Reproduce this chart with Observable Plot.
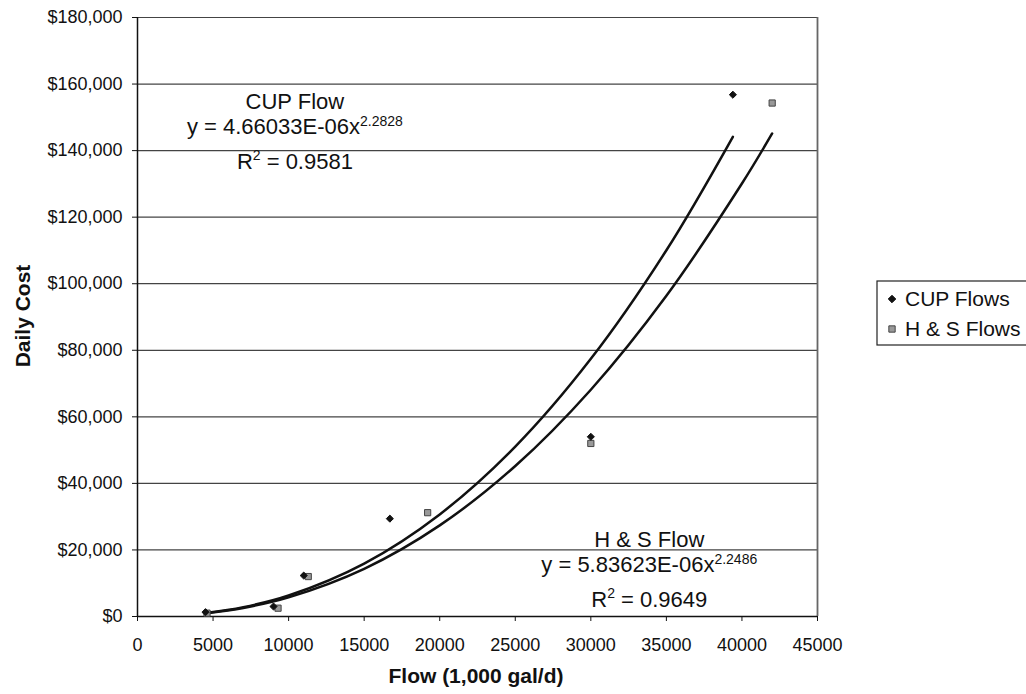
<!DOCTYPE html>
<html><head><meta charset="utf-8">
<script src="https://cdn.jsdelivr.net/npm/d3@7"></script>
<script src="https://cdn.jsdelivr.net/npm/@observablehq/plot@0.6"></script>
<style>
body{margin:0;background:#fff;}
svg{font-family:"Liberation Sans",Arial,sans-serif;}
</style>
</head><body><div id="chart"></div>
<script>
// Observed data points (Flow in 1,000 gal/d, Daily Cost in $)
const cupFlow = [4500, 9000, 11000, 16700, 30000, 39400];
const cupCost = [1300, 3000, 12300, 29400, 54000, 156800];
const hsFlow  = [4600, 9300, 11300, 19200, 30000, 42000];
const hsCost  = [1000, 2500, 12000, 31200, 52000, 154300];
// Power trendline points
const cupFitFlow = [4500, 7000, 10000, 15000, 20000, 25000, 30000, 35000, 39400];
const cupFitCost = [1018, 2792, 6303, 15909, 30677, 51050, 77424, 110053, 144150];
const hsFitFlow  = [4600, 7000, 10000, 15000, 20000, 25000, 30000, 35000, 40000, 42000];
const hsFitCost  = [1005, 2584, 5757, 14327, 27381, 45219, 68144, 96369, 130106, 145150];
// Ticks and labels
const xTicks = [0, 5000, 10000, 15000, 20000, 25000, 30000, 35000, 40000, 45000];
const yTicks = [0, 20000, 40000, 60000, 80000, 100000, 120000, 140000, 160000, 180000];
const seriesNames = ["CUP Flows", "H & S Flows"];
const fitLabels = ["CUP Flow", "H & S Flow"];
const fitEquations = [["y = 4.66033E-06x", "2.2828"], ["y = 5.83623E-06x", "2.2486"]];
const fitR2 = ["0.9581", "0.9649"];
const fitAnchorFlow = [10450, 33900];
const fitAnchorCost = [152300, 20800];
const xTitle = "Flow (1,000 gal/d)";
const yTitle = "Daily Cost";

const FONT = '"Liberation Sans", Arial, sans-serif';
const toPts = (xs, ys) => xs.map((f, i) => ({flow: f, cost: ys[i]}));
const cupPts = toPts(cupFlow, cupCost);
const hsPts = toPts(hsFlow, hsCost);
const cupFit = toPts(cupFitFlow, cupFitCost);
const hsFit = toPts(hsFitFlow, hsFitCost);

const chart = Plot.plot({
  width: 1026, height: 694,
  marginLeft: 137, marginRight: 209, marginTop: 17, marginBottom: 78,
  style: {fontFamily: FONT, fontSize: "18px", color: "#111", background: "white"},
  x: {domain: [0, 45000]},
  y: {domain: [0, 180000]},
  marks: [
    Plot.gridY(yTicks, {stroke: "#444", strokeOpacity: 1, strokeWidth: 1.2}),
    Plot.ruleX([45000], {stroke: "#666", strokeWidth: 1.8}),
    Plot.axisY({ticks: yTicks, tickFormat: d => "$" + d3.format(",")(d), tickSize: 5, tickPadding: 10, label: null, stroke: "#111"}),
    Plot.axisX({ticks: xTicks, tickFormat: d => String(d), tickSize: 5, tickPadding: 17, label: null, stroke: "#111"}),
    Plot.ruleX([0], {stroke: "#111", strokeWidth: 1.5}),
    Plot.ruleY([0], {stroke: "#111", strokeWidth: 1.5}),
    Plot.line(cupFit, {x: "flow", y: "cost", curve: "catmull-rom", stroke: "#111", strokeWidth: 2.5}),
    Plot.line(hsFit, {x: "flow", y: "cost", curve: "catmull-rom", stroke: "#111", strokeWidth: 2.5}),
    Plot.dot(hsPts, {x: "flow", y: "cost", symbol: "square", r: 3.5, fill: "#999", stroke: "#444", strokeWidth: 1}),
    Plot.dot(cupPts, {x: "flow", y: "cost", symbol: "diamond2", r: 3.2, fill: "#111", stroke: "#111", strokeWidth: 1})
  ]
});
document.getElementById("chart").appendChild(chart);

const svg = d3.select(chart);
const xs = chart.scale("x"), ys = chart.scale("y");

// Trendline annotations
fitLabels.forEach((lab, i) => {
  const cx = xs.apply(fitAnchorFlow[i]);
  const by = ys.apply(fitAnchorCost[i]);
  const g = svg.append("g").attr("font-size", 22).attr("fill", "#111").attr("text-anchor", "middle").attr("font-family", FONT);
  g.append("text").attr("x", cx).attr("y", by).text(lab);
  const t2 = g.append("text").attr("x", cx).attr("y", by + 25);
  t2.append("tspan").text(fitEquations[i][0]);
  t2.append("tspan").attr("font-size", 14).attr("dy", -8).text(fitEquations[i][1]);
  const t3 = g.append("text").attr("x", cx).attr("y", by + 60);
  t3.append("tspan").text("R");
  t3.append("tspan").attr("font-size", 14).attr("dy", -9).text("2");
  t3.append("tspan").attr("dy", 9).text(" = " + fitR2[i]);
});

// Axis titles
svg.append("text").attr("x", 476).attr("y", 683).attr("text-anchor", "middle")
  .attr("font-size", 21).attr("font-weight", "bold").attr("fill", "#111").text(xTitle);
svg.append("text").attr("transform", "translate(30,316) rotate(-90)").attr("text-anchor", "middle")
  .attr("font-size", 21).attr("font-weight", "bold").attr("fill", "#111").text(yTitle);

// Legend
const lg = svg.append("g").attr("font-family", FONT).attr("text-anchor", "start");
lg.append("rect").attr("x", 877).attr("y", 281).attr("width", 160).attr("height", 64)
  .attr("fill", "white").attr("stroke", "#222").attr("stroke-width", 1.2);
const legSym = [d3.symbol(d3.symbolDiamond2, 36)(), d3.symbol(d3.symbolSquare, 40)()];
const legFill = ["#111", "#999"];
const legStroke = ["#111", "#444"];
seriesNames.forEach((name, i) => {
  const cy = 299 + i * 30;
  lg.append("path").attr("d", legSym[i]).attr("transform", `translate(892,${cy})`)
    .attr("fill", legFill[i]).attr("stroke", legStroke[i]);
  lg.append("text").attr("x", 905).attr("y", cy + 7).attr("text-anchor", "start")
    .attr("font-size", 21).attr("fill", "#111").text(name);
});
</script>
</body></html>
